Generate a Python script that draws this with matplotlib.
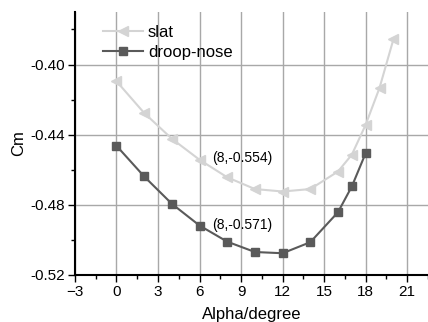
import matplotlib.pyplot as plt
from matplotlib.ticker import MultipleLocator

plt.rcParams['font.family'] = ['Liberation Sans', 'DejaVu Sans']

alpha_slat = [0, 2, 4, 6, 8, 10, 12, 14, 16, 17, 18, 19, 20]
cm_slat = [-0.4095, -0.4276, -0.4423, -0.4543, -0.4643, -0.4710, -0.4724,
           -0.4710, -0.4610, -0.4514, -0.4343, -0.4133, -0.3857]

alpha_droop = [0, 2, 4, 6, 8, 10, 12, 14, 16, 17, 18]
cm_droop = [-0.4463, -0.4638, -0.4794, -0.4918, -0.5010, -0.5069, -0.5076,
            -0.5013, -0.4842, -0.4695, -0.4505]

notes = ['(8,-0.554)', '(8,-0.571)']
note_xy = [(6.9, -0.4531), (6.9, -0.4914)]

fig = plt.figure(figsize=(4.28, 3.22), dpi=100)
ax = fig.add_axes([0.175, 0.146, 0.825, 0.817])

ax.plot(alpha_slat, cm_slat, color='#d4d4d4', lw=1.5, marker='<', ms=7,
        label='slat')
ax.plot(alpha_droop, cm_droop, color='#5a5a5a', lw=1.5, marker='s', ms=5.5,
        label='droop-nose')

for txt, (x, y) in zip(notes, note_xy):
    ax.text(x, y, txt, fontsize=10, va='center', ha='left')

ax.set_xlim(-3, 22.5)
ax.set_ylim(-0.52, -0.37)
ax.xaxis.set_major_locator(MultipleLocator(3))
ax.xaxis.set_minor_locator(MultipleLocator(1.5))
ax.yaxis.set_major_locator(MultipleLocator(0.04))
ax.yaxis.set_minor_locator(MultipleLocator(0.02))
ax.yaxis.set_major_formatter(plt.FuncFormatter(lambda v, p: f'{v:.2f}'))

ax.grid(True, which='major', color='#a8a8a8', lw=1)
ax.set_axisbelow(True)
for s in ['top', 'right']:
    ax.spines[s].set_visible(False)
for s in ['left', 'bottom']:
    ax.spines[s].set_linewidth(1.5)
ax.tick_params(which='both', direction='out', labelsize=11, width=1, pad=2)
ax.tick_params(which='major', length=5)
ax.tick_params(which='minor', length=3)

ax.set_xlabel('Alpha/degree', fontsize=12, labelpad=6)
ax.set_ylabel('Cm', fontsize=12, labelpad=3)

ax.legend(loc='upper left', bbox_to_anchor=(0.06, 0.975), frameon=False,
          fontsize=12, handlelength=2.4, handletextpad=0.3, labelspacing=0.3,
          borderaxespad=0)

fig.savefig('out.png', dpi=100)
